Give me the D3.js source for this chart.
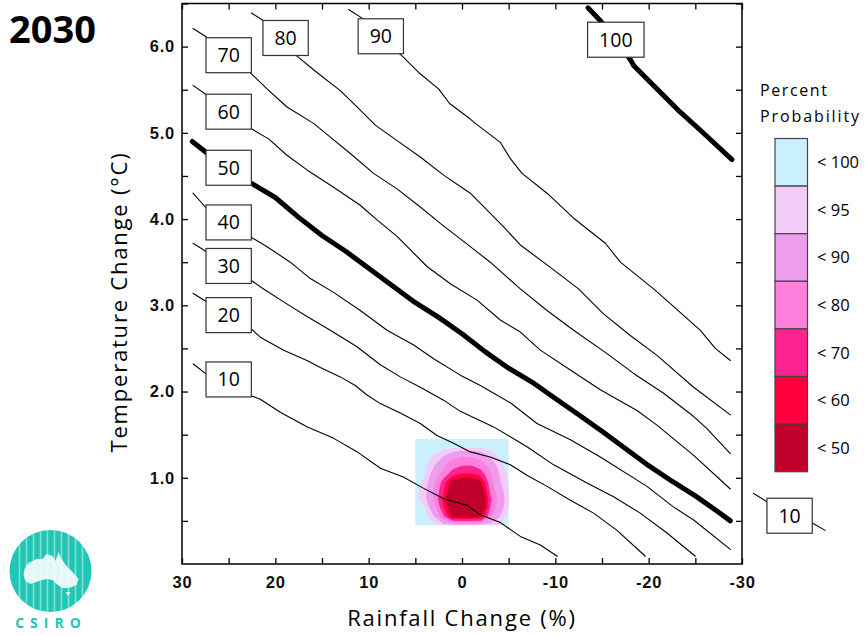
<!DOCTYPE html>
<html>
<head>
<meta charset="utf-8">
<script src="https://cdn.jsdelivr.net/npm/d3@7"></script>
<style>
  html, body { margin: 0; padding: 0; background: #fff; }
  svg { display: block; font-family: "Open Sans", sans-serif; }
</style>
</head>
<body>
<svg id="chart" width="867" height="636"></svg>
<script>
// axis ticks
const rainTicks = [30, 25, 20, 15, 10, 5, 0, -5, -10, -15, -20, -25, -30];
const tempTicks = [0.5, 1.0, 1.5, 2.0, 2.5, 3.0, 3.5, 4.0, 4.5, 5.0, 5.5, 6.0, 6.5];

// probability contours, [rain %, temperature °C]
const c10 = [[28.79,2.32],[27.5,2.21],[25,2.14],[22.57,1.95],[21.61,1.91],[19.47,1.76],[16.57,1.59],[13.79,1.46],[11.22,1.30],[8.75,1.11],[6.29,1.01],[4.15,0.88],[2.0,0.76],[-0.57,0.68],[-1.96,0.57],[-4.11,0.48],[-6.25,0.32],[-8.39,0.22],[-10.21,0.09]];
const c20 = [[28.82,3.14],[27.5,3.05],[22.61,2.73],[21.61,2.63],[19.11,2.48],[16.61,2.36],[15.18,2.28],[13.04,2.17],[11.43,2.07],[10.18,1.96],[8.75,1.86],[6.61,1.75],[4.47,1.63],[2.68,1.49],[0.9,1.40],[-0.89,1.30],[-3.03,1.24],[-5.18,1.15],[-6.96,1.03],[-9.11,0.90],[-11.61,0.74],[-14.1,0.59],[-16.61,0.39],[-19.64,0.09]];
const c30 = [[28.82,3.72],[27.5,3.63],[22.61,3.29],[21.26,3.19],[19.11,3.04],[16.61,2.87],[14.11,2.71],[11.25,2.52],[8.75,2.31],[6.61,2.17],[4.47,2.05],[1.97,1.90],[0.18,1.77],[-3.39,1.59],[-6.96,1.36],[-9.82,1.15],[-13.39,0.94],[-16.24,0.78],[-19.1,0.59],[-21.96,0.36],[-25.0,0.09]];
const c40 = [[28.82,4.30],[27.5,4.14],[22.61,3.79],[20.89,3.68],[18.4,3.50],[16.25,3.31],[13.76,3.15],[10.9,2.94],[8.03,2.71],[5.18,2.54],[3.04,2.38],[0.18,2.19],[-1.96,2.07],[-5.18,1.87],[-8.04,1.63],[-11.61,1.44],[-14.82,1.24],[-19.82,0.90],[-22.68,0.66],[-24.82,0.51],[-28.75,0.17]];
const c50 = [[28.9,4.90],[27.5,4.78],[22.5,4.41],[20,4.25],[17.5,4.02],[15,3.81],[12.5,3.63],[10,3.43],[7.5,3.23],[5,3.03],[2.5,2.86],[0,2.67],[-2.5,2.46],[-5,2.27],[-7.5,2.11],[-10,1.92],[-12.5,1.73],[-15,1.54],[-17.5,1.34],[-20,1.14],[-22.5,0.96],[-25,0.79],[-27.5,0.60],[-28.75,0.50]];
const c60 = [[28.82,5.55],[27.5,5.45],[22.61,5.05],[20.72,4.93],[18.75,4.74],[16.61,4.57],[13.76,4.37],[10.9,4.16],[9.11,3.99],[6.96,3.80],[3.75,3.45],[1.25,3.25],[-1.61,3.06],[-4.1,2.83],[-6.25,2.69],[-8.39,2.48],[-11.61,2.25],[-14.82,2.02],[-18.75,1.78],[-20.89,1.61],[-24.82,1.26],[-28.75,0.87]];
const c70 = [[28.82,6.21],[27.5,6.12],[22.61,5.69],[20.89,5.51],[18.75,5.30],[15.9,5.11],[14.11,4.95],[11.97,4.76],[9.47,4.53],[6.96,4.35],[4.47,4.14],[2.32,3.95],[-0.89,3.68],[-3.03,3.50],[-6.25,3.19],[-9.11,2.94],[-11.96,2.71],[-15.54,2.44],[-18.39,2.21],[-21.6,1.98],[-24.82,1.71],[-26.25,1.57],[-28.75,1.28]];
const c80 = [[22.57,6.39],[21.26,6.30],[18.9,6.10],[17.68,5.89],[15.54,5.70],[13.04,5.49],[11.25,5.30],[9.29,5.09],[6.96,4.91],[4.47,4.72],[1.97,4.51],[-0.89,4.30],[-4.46,3.91],[-6.25,3.70],[-9.46,3.44],[-12.49,3.19],[-15.17,2.90],[-18.03,2.65],[-20.89,2.42],[-24.82,2.05],[-28.75,1.73]];
const c90 = [[12.15,6.43],[10.71,6.33],[8.7,6.12],[6.32,5.88],[4.65,5.70],[2.51,5.51],[1.33,5.34],[-0.89,5.16],[-1.43,5.11],[-4.1,4.89],[-5.18,4.70],[-6.43,4.53],[-9.11,4.30],[-11.96,4.01],[-15.36,3.72],[-16.97,3.50],[-20.53,3.19],[-22.32,3.02],[-25.54,2.71],[-27.14,2.50],[-28.75,2.36]];
const c100 = [[-13.5,6.45],[-14.82,6.30],[-16.48,6.08],[-18.03,5.85],[-18.39,5.78],[-21.25,5.47],[-23.39,5.24],[-25.54,5.03],[-28.93,4.69]];
const cOut10 = [[-31.21,0.82],[-32.71,0.72],[-35.1,0.56],[-37.53,0.475],[-38.92,0.39]];

// label name and rain position where its box sits
const contourLevels = ["10", "20", "30", "40", "50", "60", "70", "80", "90", "100", "10"];
const contourSets   = [c10, c20, c30, c40, c50, c60, c70, c80, c90, c100, cOut10];
const labelRain     = [25, 25, 25, 25, 25, 25, 25, 18.9, 8.7, -16.48, -35.1];
const heavyLevels   = ["50", "100"];

// probability surface (percent) on a grid
const gridRain = [5, 4, 3, 2, 1, 0, -1, -2, -3, -4, -5];
const gridTemp = [1.45, 1.35, 1.25, 1.15, 1.05, 0.95, 0.85, 0.75, 0.65, 0.55, 0.45];
const probGrid = [
  [99, 99, 99, 99, 98, 98, 98, 98, 99, 99, 99],
  [99, 98.5, 97.5, 96.5, 96, 95.5, 95.5, 95.5, 96.5, 98, 99],
  [98.5, 97, 94.5, 90, 84, 81, 81, 84, 91, 96, 98.5],
  [98.5, 96.5, 91, 82, 74, 71, 71, 75, 84, 93, 97.5],
  [97.5, 95.5, 87, 76, 66, 60.5, 60, 65, 78, 90, 96.5],
  [97, 94, 82, 66, 44, 40, 40, 48, 76, 89, 95.5],
  [96.5, 93, 80, 62, 35, 25, 25, 38, 71, 86, 95],
  [96.5, 92.5, 79, 58, 30, 18, 18, 30, 67, 84, 94.5],
  [97.5, 95.5, 85, 62, 35, 25, 25, 30, 70, 86, 95],
  [98.5, 97, 90, 72, 48, 47, 47, 49.5, 77, 89.5, 97],
  [99, 98.5, 96.5, 94, 93, 93, 93, 93, 93.5, 94.8, 98]
];
const probLevels = [100, 95, 90, 80, 70, 60, 50];
const probColors = ["#c9f0fc", "#f2cbf8", "#ee9cee", "#ff80dc", "#ff2290", "#ff003c", "#c0002a"];

const svg = d3.select("#chart");
const margin = { top: 3.5, right: 125, bottom: 72, left: 182 };
const width = 867, height = 636;

const x = d3.scaleLinear().domain([30, -30]).range([margin.left, width - margin.right]);
const y = d3.scaleLinear().domain([0, 6.5]).range([height - margin.bottom, margin.top]);

// probability blob
const nx = gridRain.length, ny = gridTemp.length;
const gx = d3.scaleLinear().domain([0.5, nx - 0.5]).range([x(gridRain[0]), x(gridRain[nx - 1])]);
const gy = d3.scaleLinear().domain([0.5, ny - 0.5]).range([y(gridTemp[0]), y(gridTemp[ny - 1])]);
const gridPath = d3.geoPath(d3.geoTransform({
  point(px, py) { this.stream.point(gx(px), gy(py)); }
}));

svg.append("clipPath").attr("id", "blobClip")
  .append("rect")
  .attr("x", x(gridRain[0])).attr("y", y(gridTemp[0]))
  .attr("width", x(gridRain[nx - 1]) - x(gridRain[0]))
  .attr("height", y(gridTemp[ny - 1]) - y(gridTemp[0]));

const bands = d3.contours()
  .size([nx, ny])
  .thresholds(probLevels.map(l => -l))(probGrid.flat().map(v => -v));

svg.append("g")
  .attr("clip-path", "url(#blobClip)")
  .selectAll("path")
  .data(bands)
  .join("path")
  .attr("d", gridPath)
  .attr("fill", (d, i) => probColors[i]);

// contour lines
const line = d3.line().x(d => x(d[0])).y(d => y(d[1]));

svg.append("g")
  .selectAll("path")
  .data(contourSets)
  .join("path")
  .attr("d", line)
  .attr("fill", "none")
  .attr("stroke", "#000")
  .attr("stroke-width", (d, i) => heavyLevels.includes(contourLevels[i]) && i < 10 ? 5 : 1.1)
  .attr("stroke-linecap", "round")
  .attr("stroke-linejoin", "round");

// contour labels
function tempAt(pts, r) {
  for (let i = 1; i < pts.length; i++) {
    const a = pts[i - 1], b = pts[i];
    if ((r <= a[0] && r >= b[0]) || (r >= a[0] && r <= b[0])) {
      const f = (r - a[0]) / (b[0] - a[0]);
      return a[1] + f * (b[1] - a[1]);
    }
  }
  return pts[0][1];
}

const labels = svg.append("g")
  .selectAll("g")
  .data(contourSets)
  .join("g")
  .attr("transform", (d, i) => `translate(${x(labelRain[i])},${y(tempAt(d, labelRain[i]))})`);

labels.append("rect")
  .attr("fill", "#fff")
  .attr("stroke", "#333")
  .attr("stroke-width", 1.2);

labels.append("text")
  .attr("text-anchor", "middle")
  .attr("dy", "0.36em")
  .style("font-size", "19.5px")
  .style("font-weight", 500)
  .text((d, i) => contourLevels[i]);

labels.each(function () {
  const g = d3.select(this);
  const w = g.select("text").node().getComputedTextLength() + 23;
  g.select("rect").attr("x", -w / 2).attr("y", -17.5).attr("width", w).attr("height", 35);
});

// axes
const fmt = d => Number.isInteger(d) ? d.toFixed(1) : "";
const axisStyle = g => g.call(g => g.select(".domain").remove())
  .call(g => g.selectAll(".tick line").attr("stroke", "#000").attr("stroke-width", 1.3))
  .call(g => g.selectAll(".tick text")
    .attr("fill", "#111")
    .style("font-size", "16.5px")
    .style("font-weight", 600)
    .style("letter-spacing", "0.8px"));

svg.append("g")
  .attr("transform", `translate(${margin.left},0)`)
  .call(d3.axisLeft(y).tickValues(tempTicks).tickFormat(fmt).tickSize(-6).tickPadding(7))
  .call(axisStyle);

svg.append("g")
  .attr("transform", `translate(${width - margin.right},0)`)
  .call(d3.axisRight(y).tickValues(tempTicks).tickFormat("").tickSize(-6))
  .call(axisStyle);

svg.append("g")
  .attr("transform", `translate(0,${height - margin.bottom})`)
  .call(d3.axisBottom(x).tickValues(rainTicks).tickFormat(d => d % 10 === 0 ? d : "").tickSize(-6).tickPadding(12))
  .call(axisStyle);

svg.append("g")
  .attr("transform", `translate(0,${margin.top})`)
  .call(d3.axisTop(x).tickValues(rainTicks).tickFormat("").tickSize(-6))
  .call(axisStyle);

svg.append("rect")
  .attr("x", margin.left).attr("y", margin.top)
  .attr("width", width - margin.right - margin.left)
  .attr("height", height - margin.bottom - margin.top)
  .attr("fill", "none")
  .attr("stroke", "#000")
  .attr("stroke-width", 1.5);

// axis titles
svg.append("text")
  .attr("x", (margin.left + width - margin.right) / 2)
  .attr("y", 626)
  .attr("text-anchor", "middle")
  .style("font-size", "22px")
  .style("letter-spacing", "1.8px")
  .text("Rainfall Change (%)");

svg.append("text")
  .attr("transform", "translate(127,302) rotate(-90)")
  .attr("text-anchor", "middle")
  .style("font-size", "22px")
  .style("letter-spacing", "1.8px")
  .text("Temperature Change (°C)");

svg.append("text")
  .attr("x", 9).attr("y", 43)
  .style("font-size", "38px")
  .style("font-weight", 700)
  .text("2030");

// legend
const legend = svg.append("g").attr("transform", "translate(775,138.5)");
legend.append("text").attr("x", -15).attr("y", -43)
  .style("font-size", "16px").style("letter-spacing", "1.6px").text("Percent");
legend.append("text").attr("x", -15).attr("y", -17)
  .style("font-size", "16px").style("letter-spacing", "1.9px").text("Probability");

const boxH = 47.6;
const items = legend.selectAll("g.item")
  .data(probLevels)
  .join("g")
  .attr("class", "item")
  .attr("transform", (d, i) => `translate(0,${i * boxH})`);

items.append("rect")
  .attr("width", 32.5).attr("height", boxH)
  .attr("fill", (d, i) => probColors[i])
  .attr("stroke", "#444").attr("stroke-width", 1.2);

items.append("text")
  .attr("x", 42).attr("y", boxH / 2).attr("dy", "0.36em")
  .style("font-size", "16.5px")
  .style("font-weight", 500)
  .text(d => "< " + d);

// CSIRO logo
const logo = svg.append("g").attr("transform", "translate(50.5,571)");
const teal = "#22c6b4";
logo.append("clipPath").attr("id", "logoClip").append("circle").attr("r", 41);
logo.append("circle").attr("r", 41).attr("fill", teal);
const au = logo.append("g").attr("clip-path", "url(#logoClip)");
au.append("path")
  .attr("d", "M-26,-2 L-22,-8 L-14,-12 L-8,-12 L-4,-17 L2,-15 L5,-10 L8,-19 L11,-12 L16,-5 L23,2 L28,8 L26,14 L19,17 L12,17 L6,13 L2,9 L-4,8 L-12,10 L-20,13 L-25,10 L-27,4 Z M15,21 L20,21 L18,25 Z")
  .attr("fill", "#fff").attr("opacity", 0.88);
au.selectAll("line")
  .data(d3.range(-31, 36, 7))
  .join("line")
  .attr("x1", d => d).attr("x2", d => d)
  .attr("y1", -41).attr("y2", 41)
  .attr("stroke", "#fff").attr("stroke-opacity", 0.45).attr("stroke-width", 1.6);
svg.append("text")
  .attr("x", 51).attr("y", 628)
  .attr("text-anchor", "middle")
  .attr("fill", teal)
  .style("font-size", "14px")
  .style("font-weight", 700)
  .style("letter-spacing", "6px")
  .text("CSIRO");
</script>
</body>
</html>
